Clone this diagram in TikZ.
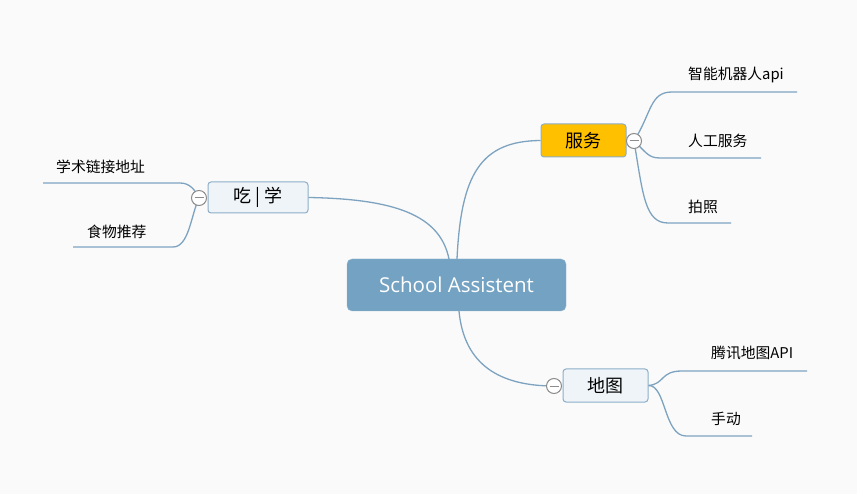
\documentclass[tikz,border=0pt]{standalone}
\usepackage{fontspec}
\setmainfont{Noto Sans CJK SC}
\newfontfamily\latinf{Open Sans}
\definecolor{bg}{RGB}{250,250,250}
\definecolor{lnk}{RGB}{125,163,192}
\definecolor{cfill}{RGB}{116,162,194}
\definecolor{cborder}{RGB}{150,185,210}
\definecolor{tfill}{RGB}{239,244,248}
\definecolor{tborder}{RGB}{140,174,200}
\definecolor{amber}{RGB}{255,192,0}
\definecolor{knob}{RGB}{140,140,140}
\begin{document}
\begin{tikzpicture}[x=1pt,y=-1pt,
  link/.style={draw=lnk,line width=1.3pt},
  topic/.style={draw=tborder,fill=tfill,rounded corners=3pt,line width=1pt,inner sep=0pt,font=\fontsize{18}{20}\selectfont},
  leaf/.style={anchor=west,inner sep=0pt,font=\fontsize{14.8}{16}\selectfont},
  knobc/.style={circle,draw=knob,fill=white,line width=1pt,minimum size=15pt,inner sep=0pt,
    path picture={\draw[knob,line width=1pt] ([xshift=-4.5pt]path picture bounding box.center) -- ([xshift=4.5pt]path picture bounding box.center);}}
]
\fill[bg] (0,0) rectangle (857,494);
\useasboundingbox (0,0) rectangle (857,494);

% nodes
\node[fill=cfill,draw=cborder,rounded corners=5pt,minimum width=219pt,minimum height=52pt,inner sep=0pt,text=white,font=\latinf\fontsize{20.5}{23}\selectfont] (root) at (456.5,285) {School Assistent};
\node[topic,fill=amber,minimum width=85pt,minimum height=33pt] (fw) at (583.5,140.5) {服务};
\node[topic,minimum width=100pt,minimum height=31pt] (cx) at (258,197.5) {吃 | 学};
\node[topic,minimum width=85pt,minimum height=33pt] (dt) at (605.5,385.5) {地图};

\coordinate (r1) at (449,259);
\coordinate (r2) at (457,259);
\coordinate (r3) at (459,311);

% leaves text
\node[leaf] (l1) at (688,75) {智能机器人api};
\node[leaf] (l2) at (688,141) {人工服务};
\node[leaf] (l3) at (688,207) {拍照};
\node[leaf] (l4) at (56,167) {学术链接地址};
\node[leaf] (l5) at (87,232) {食物推荐};
\node[leaf] (l6) at (711,353) {腾讯地图API};
\node[leaf] (l7) at (711,419) {手动};

% underline ends
\coordinate (u1a) at (672,92);  \coordinate (u1b) at (797,92);
\coordinate (u2a) at (660,158); \coordinate (u2b) at (761,158);
\coordinate (u3a) at (668,223); \coordinate (u3b) at (731,223);
\coordinate (u4a) at (43,183);  \coordinate (u4b) at (180,183);
\coordinate (u5a) at (73,247);  \coordinate (u5b) at (173,247);
\coordinate (u6a) at (682,371); \coordinate (u6b) at (807,371);
\coordinate (u7a) at (686,436); \coordinate (u7b) at (752,436);

\coordinate (k1) at (634,141);
\coordinate (k2) at (199,198);
\coordinate (k3) at (554,386);

% main connectors
\draw[link] (cx.east) .. controls (395,199) and (440,215) .. (r1);
\draw[link] (r2) .. controls (461,175) and (480,141) .. (fw.west);
\draw[link] (r3) .. controls (464,365) and (500,386) .. (k3);

% children connectors
\draw[link] (k1) .. controls (652,112) and (650,92) .. (u1a) -- (u1b);
\draw[link] (k1) .. controls (646,152) and (648,158) .. (u2a) -- (u2b);
\draw[link] (k1) .. controls (643,195) and (645,223) .. (u3a) -- (u3b);
\draw[link] (u4a) -- (u4b) .. controls (190,183) and (195,190) .. (k2);
\draw[link] (u5a) -- (u5b) .. controls (189,247) and (191,215) .. (k2);
\draw[link] (dt.east) .. controls (665,384) and (660,371) .. (u6a) -- (u6b);
\draw[link] (dt.east) .. controls (666,385) and (664,436) .. (u7a) -- (u7b);

% knobs
\node[knobc] (kn1) at (k1) {};
\node[knobc] (kn2) at (k2) {};
\node[knobc] (kn3) at (k3) {};
\end{tikzpicture}
\end{document}
